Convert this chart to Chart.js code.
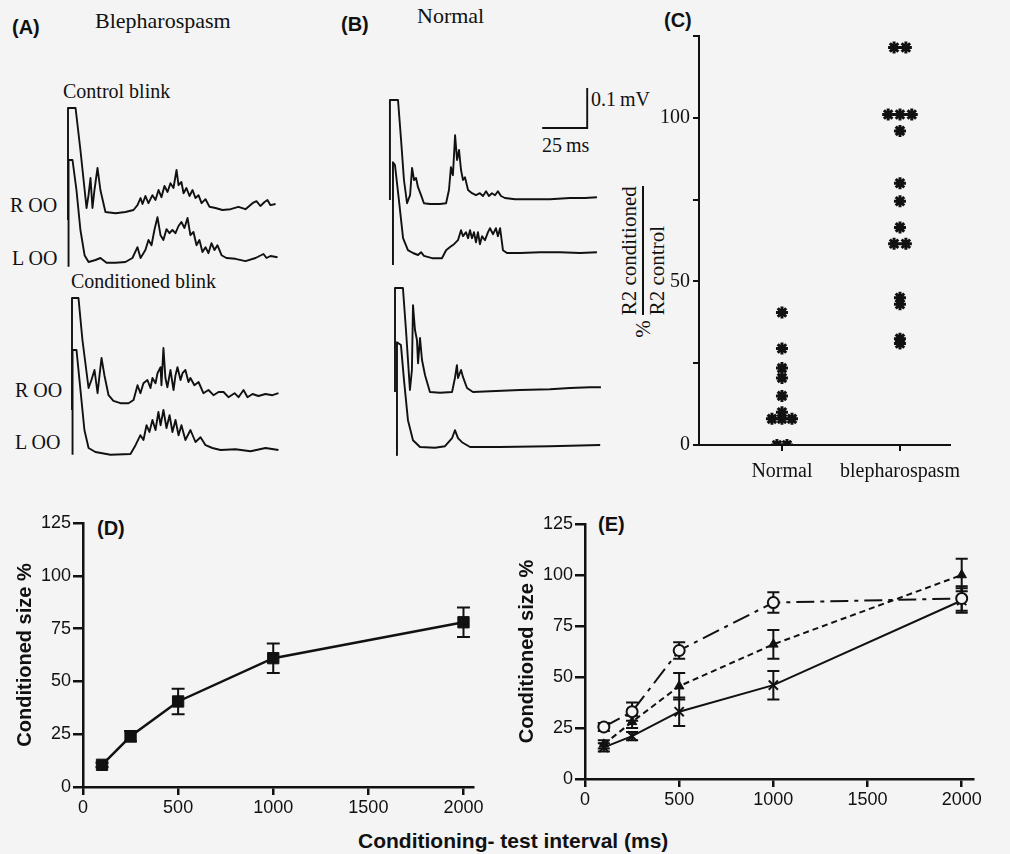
<!DOCTYPE html>
<html><head><meta charset="utf-8">
<script src="https://cdn.jsdelivr.net/npm/chart.js@4/dist/chart.umd.min.js"></script>
<style>
html,body{margin:0;padding:0;background:#f4f4f4;}
#root{position:relative;width:1010px;height:854px;overflow:hidden;background:#f4f4f4;}
canvas{position:absolute;}
.t{position:absolute;white-space:nowrap;line-height:1;color:#111;}
.serif{font-family:"Liberation Serif","Times New Roman",serif;}
.sans{font-family:"Liberation Sans",Arial,sans-serif;}
.b{font-weight:bold;}
#cTitle{position:absolute;display:flex;align-items:center;justify-content:center;transform:rotate(-90deg);font-size:21px;color:#111;line-height:1.05;}
#cTitle .frac{display:inline-flex;flex-direction:column;align-items:flex-start;margin-left:5px;}
#cTitle .num{border-bottom:2px solid #111;padding-bottom:1px;}
#cTitle .den{padding-top:2px;}
</style></head><body><div id="root">
<div class="t sans b" style="left:12px;top:17px;font-size:20px;">(A)</div>
<div class="t serif" style="left:95px;top:10px;font-size:22px;">Blepharospasm</div>
<div class="t serif" style="left:63px;top:81px;font-size:20px;">Control blink</div>
<div class="t serif" style="left:10px;top:195px;font-size:20px;">R OO</div>
<div class="t serif" style="left:12px;top:248px;font-size:20px;">L OO</div>
<div class="t serif" style="left:71px;top:271px;font-size:20px;">Conditioned blink</div>
<div class="t serif" style="left:15px;top:380px;font-size:20px;">R OO</div>
<div class="t serif" style="left:15px;top:432px;font-size:20px;">L OO</div>
<div class="t sans b" style="left:341px;top:14px;font-size:20px;">(B)</div>
<div class="t serif" style="left:417px;top:5px;font-size:22px;">Normal</div>
<div class="t serif" style="left:591px;top:89px;font-size:20px;">0.1&#8201;mV</div>
<div class="t serif" style="left:542px;top:135px;font-size:20px;">25&#8201;ms</div>
<div class="t sans b" style="left:664px;top:10px;font-size:20px;">(C)</div>
<div id="cTitle" class="serif" style="left:567px;top:239px;width:152px;height:46px;"><span>%</span><span class="frac"><span class="num">R2 conditioned</span><span class="den">R2 control</span></span></div>
<div class="t sans b" style="left:97px;top:518px;font-size:20px;">(D)</div>
<div class="t sans b" style="left:598px;top:514px;font-size:20px;">(E)</div>
<div class="t sans b" style="left:358px;top:830px;font-size:21px;">Conditioning- test interval (ms)</div>
</div>
<script>
// ---------------- DATA ----------------
// EMG traces: [time (ms after stimulus), amplitude (uV, relative to trace baseline)]
const blephControlR = [[0,-25],[0,255],[4.2,255],[6.9,150],[10.3,5],[11.4,37],[12.5,80],[13.6,5],[14.7,50],[16.4,105],[18,50],[20.8,-5],[26.4,-8],[31.9,-5],[36.4,0],[38.6,12],[40.3,30],[41.4,15],[43,35],[44.7,17],[46.9,37],[48.6,25],[50.3,50],[51.9,32],[53.6,60],[55.3,45],[56.9,67],[58.6,55],[60.3,100],[61.4,62],[63,70],[64.2,42],[65.8,55],[67.5,35],[69.2,50],[70.8,30],[72.5,37],[74.2,17],[76.4,27],[78.6,8],[81.9,5],[85.8,0],[90.3,2],[94.7,8],[98.6,2],[102.5,17],[104.7,22],[106.9,10],[109.2,20],[110.8,25],[112.5,12],[115.3,15]];
const blephControlL = [[0.3,-12],[0.3,255],[2.5,255],[4.7,180],[6.9,80],[9.2,17],[11.4,0],[15.3,5],[18,10],[21.4,-2],[26.4,-2],[31.9,0],[35.8,10],[38.6,37],[40.3,10],[43,30],[44.7,55],[46.4,42],[48,80],[49.7,112],[51.4,67],[53,55],[54.7,82],[56.4,72],[58,80],[59.7,72],[61.4,90],[63,100],[64.7,85],[66.4,110],[68,67],[69.7,75],[71.4,42],[73,55],[74.7,25],[76.4,37],[78,22],[79.7,47],[81.4,30],[83,42],[85.3,17],[88,10],[93,8],[98.6,2],[104.2,10],[108.6,20],[110.3,10],[112.5,15],[116.4,12]];
const blephCondR = [[0,-25],[0,255],[3.6,255],[5.8,150],[9.2,30],[10.8,50],[12.5,75],[14.2,17],[15.3,62],[16.4,105],[18,62],[20.3,12],[23,-2],[26.9,-8],[31.4,-8],[34.2,0],[36.4,37],[38,17],[39.7,42],[41.9,50],[43.6,30],[44.7,55],[46.4,42],[47.5,67],[49.2,82],[49.7,37],[50.8,130],[51.9,55],[53,32],[54.7,75],[56.4,25],[57.5,62],[58.6,82],[60.3,50],[61.4,67],[63,75],[64.7,45],[65.8,55],[68,37],[70.3,45],[73,17],[75.8,25],[78.6,12],[81.4,20],[84.2,20],[86.9,7],[90.3,17],[92.5,7],[95.3,25],[97.5,7],[100.3,15],[103.6,10],[107.5,15],[111.4,12],[114.7,17]];
const blephCondL = [[0.3,-7],[0.3,255],[2.5,255],[4.7,155],[6.9,55],[9.2,10],[13,0],[21.4,-7],[32.5,-5],[35.3,17],[38,42],[39.7,30],[41.4,67],[43,50],[44.7,80],[46.4,55],[48,100],[49.2,67],[50.8,105],[52.5,60],[54.2,92],[55.8,50],[57.5,80],[59.2,42],[60.8,67],[63,30],[65.8,55],[68.6,25],[71.4,37],[74.2,17],[78,10],[82.5,5],[90.8,7],[99.2,2],[107.5,10],[114.7,5]];
const normalControlR = [[-0.6,0],[-0.6,250],[3.9,250],[5.6,150],[7.2,50],[8.9,-8],[10.6,12],[11.7,80],[12.8,50],[13.9,55],[15,32],[16.7,12],[18.3,-8],[21.7,-10],[27.2,-10],[30.6,-8],[32.2,25],[33.3,82],[34.4,62],[35.6,162],[36.7,100],[37.8,125],[38.9,75],[40,50],[41.1,57],[42.8,25],[45,17],[47.2,12],[49.4,17],[51.1,10],[52.8,22],[54.4,10],[56.1,17],[57.8,12],[59.4,22],[61.1,10],[63.3,5],[68.9,2],[77.2,2],[88.3,2],[99.4,5],[107.8,5],[114.4,7]];
const normalControlL = [[1.1,-25],[1.1,232],[2.2,225],[4.4,137],[6.7,42],[9.4,12],[12.2,5],[15,0],[16.7,7],[18.3,-2],[22.8,-8],[28.3,-8],[30.6,12],[32.8,20],[35,27],[37.2,37],[38.9,62],[40,47],[41.7,57],[42.8,42],[43.9,62],[45,42],[46.1,57],[47.2,32],[48.3,57],[49.4,27],[50.6,47],[52.2,37],[53.9,57],[55,67],[56.7,52],[58.3,67],[59.4,47],[60.6,67],[62.2,12],[64.4,5],[71.7,5],[82.8,7],[93.9,7],[105,5],[114.4,7]];
const normalCondR = [[0,0],[0,260],[4.4,260],[6.1,155],[8.3,5],[9.4,55],[10,217],[11.1,155],[12.2,130],[12.8,72],[13.9,135],[15,80],[16.7,42],[19.4,0],[25,-2],[31.7,0],[33.3,35],[34.4,67],[35,35],[36.7,55],[37.8,37],[40,10],[43.3,0],[52.8,2],[69.4,5],[86.1,7],[97.2,10],[108.3,12],[114.4,12]];
const normalCondL = [[0.6,-20],[1.1,262],[3.3,255],[5,167],[7.2,67],[10,17],[13.9,0],[22.2,-2],[27.8,2],[31.7,22],[33.3,42],[35,22],[37.2,12],[41.7,0],[58.3,0],[86,2],[114,5]];
const scaleBarMs = 25, scaleBarUv = 100;

// Panel C
const groupLabels = ['Normal', 'blepharospasm'];
const normalRatio = [40.5, 29.5, 23.5, 20.5, 15, 10, 8, 8, 8, 0, 0];
const blephRatio = [121.5, 121.5, 101, 101, 101, 96, 80, 74.5, 66.5, 61.5, 61.5, 45, 43, 32.5, 31];

// Panels D and E
const intervalsMs = [100, 250, 500, 1000, 2000];
const xTicks = [0, 500, 1000, 1500, 2000];
const yTicks = [0, 25, 50, 75, 100, 125];
const dMean = [10.5, 24, 40.5, 61, 78];
const dErr = [1, 2.5, 6, 7, 7];
const eCircleMean = [25.5, 33, 63, 86.5, 88.5];
const eCircleErr = [2, 4.5, 4, 5, 6];
const eTriangleMean = [17, 28, 45.5, 66, 100];
const eTriangleErr = [2, 3, 6.5, 7, 8];
const eCrossMean = [15.5, 21, 33, 46, 87.5];
const eCrossErr = [2, 2, 7, 7, 6];

// ---------------- DRAWING ----------------
const INK = '#111', BG = '#f4f4f4';
const root = document.getElementById('root');
function makeCanvas(left, top, w, h) {
  const c = document.createElement('canvas');
  c.width = w; c.height = h;
  c.style.left = left + 'px'; c.style.top = top + 'px';
  root.appendChild(c);
  return c;
}
const noChrome = {legend: {display: false}, tooltip: {enabled: false}};

// Trace charts
const PX_PER_MS = 1.8, PX_PER_UV = 0.4, T_MIN = -5, T_MAX = 120, V_MAX = 300;
function traceChart(x0, baselineY, vMin, traces, extra) {
  const w = Math.round((T_MAX - T_MIN) * PX_PER_MS), h = Math.round((V_MAX - vMin) * PX_PER_UV);
  const c = makeCanvas(x0 + T_MIN * PX_PER_MS, baselineY - V_MAX * PX_PER_UV, w, h);
  const datasets = traces.map(tr => ({
    data: tr.points.map(([t, v]) => ({x: t, y: v + tr.offset})),
    borderColor: INK, borderWidth: 1.9, pointRadius: 0, tension: 0, borderJoinStyle: 'round', fill: false
  }));
  (extra || []).forEach(d => datasets.push(d));
  new Chart(c, {
    type: 'line', data: {datasets},
    options: {animation: false, responsive: false, plugins: noChrome, layout: {padding: 0},
      scales: {x: {type: 'linear', display: false, min: T_MIN, max: T_MAX}, y: {display: false, min: vMin, max: V_MAX}}}
  });
}
traceChart(67.5, 210, -162.5, [{points: blephControlR, offset: 0}, {points: blephControlL, offset: -130}]);
traceChart(71.5, 400, -162.5, [{points: blephCondR, offset: 0}, {points: blephCondL, offset: -130}]);
const barCorner = {t: 109, v: 180};
traceChart(391, 200, -175, [{points: normalControlR, offset: 0}, {points: normalControlL, offset: -137.5}], [{
  data: [{x: barCorner.t - scaleBarMs, y: barCorner.v}, {x: barCorner.t, y: barCorner.v}, {x: barCorner.t, y: barCorner.v + scaleBarUv}],
  borderColor: INK, borderWidth: 1.9, pointRadius: 0, tension: 0, fill: false
}]);
traceChart(395, 392, -175, [{points: normalCondR, offset: 0}, {points: normalCondL, offset: -137.5}]);

// Panel C scatter
function dodge(values, center, step) {
  const counts = {}, seen = {};
  values.forEach(v => counts[v] = (counts[v] || 0) + 1);
  return values.map(v => {
    seen[v] = seen[v] === undefined ? 0 : seen[v] + 1;
    return {x: center + (seen[v] - (counts[v] - 1) / 2) * step, y: v};
  });
}
const starStyle = {pointStyle: 'star', pointRadius: 6, pointBorderWidth: 3, pointBorderColor: INK, pointBackgroundColor: INK, showLine: false};
const serif20 = {family: 'Liberation Serif', size: 20};
new Chart(makeCanvas(640, 20, 340, 480), {
  type: 'scatter',
  data: {datasets: [
    Object.assign({data: dodge(normalRatio, 1, 0.085)}, starStyle),
    Object.assign({data: dodge(blephRatio, 2, 0.1)}, starStyle)
  ]},
  options: {animation: false, responsive: false, plugins: noChrome,
    layout: {padding: {top: 16, right: 30, left: 0, bottom: 0}},
    scales: {
      x: {type: 'linear', min: 0.297, max: 2.424,
        afterBuildTicks: s => { s.ticks = groupLabels.map((_, i) => ({value: i + 1})); },
        ticks: {callback: v => groupLabels[v - 1] || '', font: serif20, color: INK, padding: 9, maxRotation: 0, autoSkip: false},
        grid: {drawOnChartArea: false, drawTicks: true, tickLength: 6, color: INK, lineWidth: 2},
        border: {display: true, color: INK, width: 2},
        afterFit: s => { s.height = 55; }},
      y: {min: 0, max: 125, afterBuildTicks: s => { s.ticks = yTicks.map(v => ({value: v})); },
        ticks: {callback: v => (v % 50 === 0 ? String(v) : ''), font: serif20, color: INK, padding: 3},
        grid: {drawOnChartArea: false, drawTicks: true, tickLength: 6, color: INK, lineWidth: 2},
        border: {display: true, color: INK, width: 2},
        afterFit: s => { s.width = 59; }}
    }}
});

// Panels D and E
function errBarData(xs, ys, es, capHalf) {
  const out = [];
  xs.forEach((x, i) => {
    const lo = ys[i] - es[i], hi = ys[i] + es[i];
    out.push({x, y: lo}, {x, y: hi}, {x, y: null},
      {x: x - capHalf, y: hi}, {x: x + capHalf, y: hi}, {x, y: null},
      {x: x - capHalf, y: lo}, {x: x + capHalf, y: lo}, {x, y: null});
  });
  return out;
}
function errDataset(xs, ys, es, capHalf) {
  return {data: errBarData(xs, ys, es, capHalf), borderColor: INK, borderWidth: 2, pointRadius: 0, spanGaps: false, tension: 0, order: 10};
}
function seriesData(xs, ys) { return xs.map((x, i) => ({x, y: ys[i]})); }
const sans18 = {family: 'Liberation Sans', size: 18};
function sizeAxes(yWidth, xHeight, titlePad, xMax) {
  return {
    x: {type: 'linear', min: 0, max: xMax,
      afterBuildTicks: s => { s.ticks = xTicks.map(v => ({value: v})); },
      ticks: {callback: v => String(v), font: sans18, color: INK, padding: 2, maxRotation: 0, autoSkip: false},
      grid: {drawOnChartArea: false, drawTicks: true, tickLength: 8, color: INK, lineWidth: 2.5},
      border: {display: true, color: INK, width: 2.5},
      afterFit: s => { s.height = xHeight; }},
    y: {min: 0, max: 125, afterBuildTicks: s => { s.ticks = yTicks.map(v => ({value: v})); },
      ticks: {callback: v => String(v), font: sans18, color: INK, padding: 2},
      grid: {drawOnChartArea: false, drawTicks: true, tickLength: 10, color: INK, lineWidth: 2.5},
      border: {display: true, color: INK, width: 2.5},
      title: {display: true, text: 'Conditioned size %', color: INK, font: {family: 'Liberation Sans', size: 20, weight: 'bold'}, padding: {top: titlePad, bottom: 0}},
      afterFit: s => { s.width = yWidth; }}
  };
}
new Chart(makeCanvas(0, 500, 490, 330), {
  type: 'line',
  data: {datasets: [
    {data: seriesData(intervalsMs, dMean), borderColor: INK, borderWidth: 2.5, tension: 0,
      pointStyle: 'rect', pointRadius: 8, pointBorderWidth: 1, pointBackgroundColor: INK, pointBorderColor: INK, order: 1},
    errDataset(intervalsMs, dMean, dErr, 34)
  ]},
  options: {animation: false, responsive: false, plugins: noChrome,
    layout: {padding: {top: 23, right: 17, left: 0, bottom: 0}},
    scales: sizeAxes(83, 43, 13, 2050)}
});
new Chart(makeCanvas(490, 500, 500, 330), {
  type: 'line',
  data: {datasets: [
    {data: seriesData(intervalsMs, eCircleMean), borderColor: INK, borderWidth: 2, borderDash: [18, 6, 4, 6], tension: 0,
      pointStyle: 'circle', pointRadius: 5.5, pointBorderWidth: 2, pointBackgroundColor: BG, pointBorderColor: INK, order: 1},
    {data: seriesData(intervalsMs, eTriangleMean), borderColor: INK, borderWidth: 2, borderDash: [6, 4], tension: 0,
      pointStyle: 'triangle', pointRadius: 5.5, pointBorderWidth: 1, pointBackgroundColor: INK, pointBorderColor: INK, order: 2},
    {data: seriesData(intervalsMs, eCrossMean), borderColor: INK, borderWidth: 2, tension: 0,
      pointStyle: 'crossRot', pointRadius: 6.5, pointBorderWidth: 2, pointBackgroundColor: INK, pointBorderColor: INK, order: 3},
    errDataset(intervalsMs, eCircleMean, eCircleErr, 32),
    errDataset(intervalsMs, eTriangleMean, eTriangleErr, 32),
    errDataset(intervalsMs, eCrossMean, eCrossErr, 32)
  ]},
  options: {animation: false, responsive: false, plugins: noChrome,
    layout: {padding: {top: 24, right: 17, left: 0, bottom: 0}},
    scales: sizeAxes(95, 51, 25, 2060)}
});
</script></body></html>
